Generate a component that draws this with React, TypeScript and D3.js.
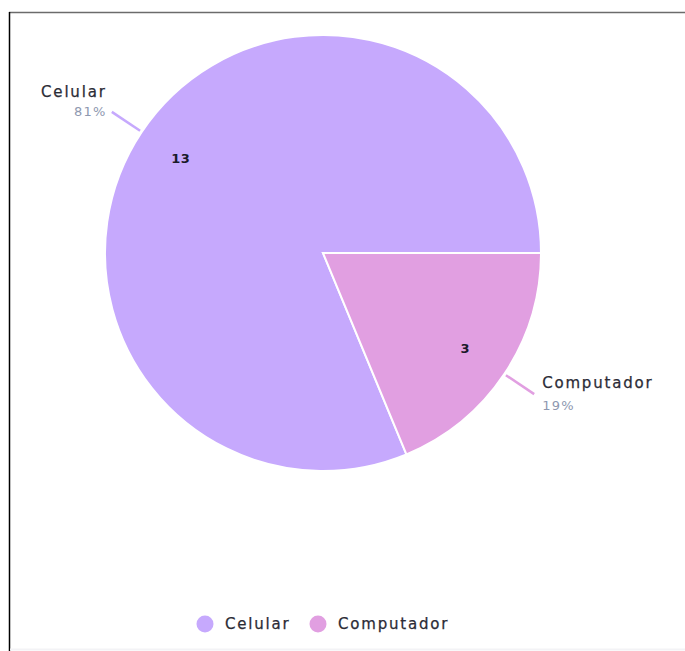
import React, { useEffect, useRef } from "react";
import * as d3 from "d3";

const categories = ["Celular", "Computador"];
const values = [13, 3];
const colors = ["#c6a9fd", "#e19fe1"];

const FONT = "'DejaVu Sans', sans-serif";
const SPACING = 1.8;

const App = () => {
  const svgRef = useRef<SVGSVGElement>(null);

  useEffect(() => {
    const width = 685;
    const height = 651;
    const cx = 323;
    const cy = 253;
    const radius = 218;
    const svg = d3.select(svgRef.current);
    svg.selectAll("*").remove();

    // frame lines (top gray, left black, faint bottom)
    svg.append("line").attr("x1", 9).attr("x2", width).attr("y1", 12.5).attr("y2", 12.5).attr("stroke", "#6b6b6b").attr("stroke-width", 1.5);
    svg.append("line").attr("x1", 9.5).attr("x2", 9.5).attr("y1", 12).attr("y2", height).attr("stroke", "#000").attr("stroke-width", 1.5);
    svg.append("line").attr("x1", 10).attr("x2", width).attr("y1", 649.5).attr("y2", 649.5).attr("stroke", "#f3f3f6").attr("stroke-width", 2);

    const data = categories.map((c, i) => ({ name: c, value: values[i], color: colors[i] }));
    const total = d3.sum(values);

    // slices go counterclockwise from 3 o'clock
    const pie = d3
      .pie<any>()
      .sort(null)
      .value((d) => d.value)
      .startAngle(Math.PI / 2)
      .endAngle(Math.PI / 2 - 2 * Math.PI);

    const arc = d3.arc<any>().innerRadius(0).outerRadius(radius);
    const valueArc = d3.arc<any>().innerRadius(171).outerRadius(171);
    const lineInner = d3.arc<any>().innerRadius(radius + 2).outerRadius(radius + 2);
    const lineOuter = d3.arc<any>().innerRadius(radius + 36).outerRadius(radius + 36);

    const chart = svg.append("g").attr("transform", `translate(${cx},${cy})`);
    const arcs = pie(data);

    chart
      .selectAll(".slice")
      .data(arcs)
      .enter()
      .append("path")
      .attr("class", "slice")
      .attr("d", arc)
      .attr("fill", (d) => d.data.color)
      .attr("stroke", "#fff")
      .attr("stroke-width", 2);

    // value labels inside slices
    chart
      .selectAll(".value")
      .data(arcs)
      .enter()
      .append("text")
      .attr("class", "value")
      .attr("x", (d) => valueArc.centroid(d)[0])
      .attr("y", (d) => valueArc.centroid(d)[1])
      .attr("dy", "0.35em")
      .attr("text-anchor", "middle")
      .attr("font-family", FONT)
      .attr("font-size", 13)
      .attr("font-weight", 700)
      .attr("letter-spacing", 0.5)
      .attr("fill", "#1a1a2a")
      .text((d) => d.data.value);

    // connector lines
    chart
      .selectAll(".tick-line")
      .data(arcs)
      .enter()
      .append("line")
      .attr("class", "tick-line")
      .attr("x1", (d) => lineInner.centroid(d)[0])
      .attr("y1", (d) => lineInner.centroid(d)[1])
      .attr("x2", (d) => lineOuter.centroid(d)[0])
      .attr("y2", (d) => lineOuter.centroid(d)[1])
      .attr("stroke", (d) => d.data.color)
      .attr("stroke-width", 2.5);

    // outer labels
    const isRight = (d) => lineOuter.centroid(d)[0] > 0;
    const labels = chart
      .selectAll(".label")
      .data(arcs)
      .enter()
      .append("g")
      .attr("class", "label")
      .attr("transform", (d) => {
        const [x, y] = lineOuter.centroid(d);
        return `translate(${x + (isRight(d) ? 8 : -7 + SPACING)},${y})`;
      })
      .attr("text-anchor", (d) => (isRight(d) ? "start" : "end"))
      .attr("font-family", FONT)
      .attr("letter-spacing", SPACING);

    labels
      .append("text")
      .attr("y", (d) => (isRight(d) ? -11 : -20))
      .attr("dy", "0.35em")
      .attr("font-size", 15)
      .attr("fill", "#2b2b36")
      .attr("stroke", "#2b2b36")
      .attr("stroke-width", 0.25)
      .text((d) => d.data.name);

    labels
      .append("text")
      .attr("y", (d) => (isRight(d) ? 11 : 0))
      .attr("dy", "0.35em")
      .attr("font-size", 13)
      .attr("letter-spacing", 1.2)
      .attr("fill", "#8e98b0")
      .text((d) => `${Math.round((d.data.value / total) * 100)}%`);

    // legend
    const legendX = [205, 318];
    const legend = svg
      .selectAll(".legend")
      .data(data)
      .enter()
      .append("g")
      .attr("class", "legend")
      .attr("transform", (d, i) => `translate(${legendX[i]},624)`);

    legend.append("circle").attr("r", 8.5).attr("fill", (d) => d.color);
    legend
      .append("text")
      .attr("x", 20)
      .attr("dy", "0.35em")
      .attr("font-family", FONT)
      .attr("font-size", 15)
      .attr("letter-spacing", SPACING)
      .attr("fill", "#2b2b36")
      .attr("stroke", "#2b2b36")
      .attr("stroke-width", 0.25)
      .text((d) => d.name);
  }, []);

  return <svg ref={svgRef} width={685} height={651} style={{ position: "absolute", left: 0, top: 0 }}></svg>;
};

export default App;
